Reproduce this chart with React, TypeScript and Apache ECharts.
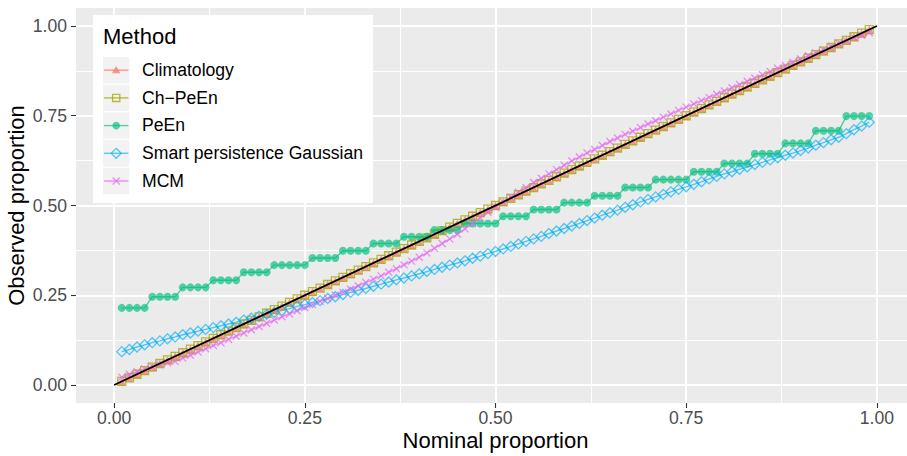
import React, { useEffect, useRef } from "react";
import * as echarts from "echarts";

const nominal = [
  0.01, 0.02, 0.03, 0.04, 0.05, 0.06, 0.07, 0.08, 0.09, 0.1,
  0.11, 0.12, 0.13, 0.14, 0.15, 0.16, 0.17, 0.18, 0.19, 0.2,
  0.21, 0.22, 0.23, 0.24, 0.25, 0.26, 0.27, 0.28, 0.29, 0.3,
  0.31, 0.32, 0.33, 0.34, 0.35, 0.36, 0.37, 0.38, 0.39, 0.4,
  0.41, 0.42, 0.43, 0.44, 0.45, 0.46, 0.47, 0.48, 0.49, 0.5,
  0.51, 0.52, 0.53, 0.54, 0.55, 0.56, 0.57, 0.58, 0.59, 0.6,
  0.61, 0.62, 0.63, 0.64, 0.65, 0.66, 0.67, 0.68, 0.69, 0.7,
  0.71, 0.72, 0.73, 0.74, 0.75, 0.76, 0.77, 0.78, 0.79, 0.8,
  0.81, 0.82, 0.83, 0.84, 0.85, 0.86, 0.87, 0.88, 0.89, 0.9,
  0.91, 0.92, 0.93, 0.94, 0.95, 0.96, 0.97, 0.98, 0.99,
];

const climatology = [
  0.01, 0.02, 0.03, 0.04, 0.05, 0.06, 0.07, 0.08, 0.09, 0.1,
  0.11, 0.12, 0.13, 0.14, 0.15, 0.16, 0.17, 0.18, 0.19, 0.2,
  0.21, 0.22, 0.23, 0.24, 0.25, 0.26, 0.27, 0.28, 0.29, 0.3,
  0.31, 0.32, 0.33, 0.34, 0.35, 0.36, 0.37, 0.38, 0.39, 0.4,
  0.41, 0.42, 0.43, 0.44, 0.45, 0.46, 0.47, 0.48, 0.49, 0.5,
  0.51, 0.52, 0.53, 0.54, 0.55, 0.56, 0.57, 0.58, 0.59, 0.6,
  0.61, 0.62, 0.63, 0.64, 0.65, 0.66, 0.67, 0.68, 0.69, 0.7,
  0.71, 0.72, 0.73, 0.74, 0.75, 0.76, 0.77, 0.78, 0.79, 0.8,
  0.81, 0.82, 0.83, 0.84, 0.85, 0.86, 0.87, 0.88, 0.89, 0.9,
  0.91, 0.92, 0.93, 0.94, 0.95, 0.96, 0.97, 0.98, 0.99,
];

const chPeEn = [
  0.01, 0.02, 0.03, 0.04, 0.05, 0.06, 0.07, 0.08, 0.09, 0.1,
  0.11, 0.12, 0.13, 0.14, 0.15, 0.16, 0.17, 0.18, 0.19, 0.2,
  0.21, 0.22, 0.23, 0.24, 0.25, 0.26, 0.27, 0.28, 0.29, 0.3,
  0.31, 0.32, 0.33, 0.34, 0.35, 0.36, 0.37, 0.38, 0.39, 0.4,
  0.41, 0.42, 0.43, 0.44, 0.45, 0.46, 0.47, 0.48, 0.49, 0.5,
  0.51, 0.52, 0.53, 0.54, 0.55, 0.56, 0.57, 0.58, 0.59, 0.6,
  0.61, 0.62, 0.63, 0.64, 0.65, 0.66, 0.67, 0.68, 0.69, 0.7,
  0.71, 0.72, 0.73, 0.74, 0.75, 0.76, 0.77, 0.78, 0.79, 0.8,
  0.81, 0.82, 0.83, 0.84, 0.85, 0.86, 0.87, 0.88, 0.89, 0.9,
  0.91, 0.92, 0.93, 0.94, 0.95, 0.96, 0.97, 0.98, 0.99,
];

const peEn = [
  0.215, 0.215, 0.215, 0.215, 0.246, 0.246, 0.246, 0.246, 0.272, 0.272,
  0.272, 0.272, 0.292, 0.292, 0.292, 0.292, 0.314, 0.314, 0.314, 0.314,
  0.334, 0.334, 0.334, 0.334, 0.334, 0.354, 0.354, 0.354, 0.354, 0.374,
  0.374, 0.374, 0.374, 0.394, 0.394, 0.394, 0.394, 0.413, 0.413, 0.413,
  0.413, 0.432, 0.432, 0.432, 0.432, 0.45, 0.45, 0.45, 0.45, 0.45,
  0.47, 0.47, 0.47, 0.47, 0.489, 0.489, 0.489, 0.489, 0.508, 0.508,
  0.508, 0.508, 0.527, 0.527, 0.527, 0.527, 0.55, 0.55, 0.55, 0.55,
  0.572, 0.572, 0.572, 0.572, 0.572, 0.594, 0.594, 0.594, 0.594, 0.617,
  0.617, 0.617, 0.617, 0.644, 0.644, 0.644, 0.644, 0.673, 0.673, 0.673,
  0.673, 0.708, 0.708, 0.708, 0.708, 0.749, 0.749, 0.749, 0.749,
];

const smartPersistence = [
  0.093, 0.099, 0.106, 0.112, 0.118, 0.123, 0.129, 0.134, 0.14, 0.145,
  0.15, 0.155, 0.16, 0.165, 0.17, 0.175, 0.181, 0.186, 0.192, 0.197,
  0.202, 0.208, 0.213, 0.219, 0.224, 0.23, 0.235, 0.241, 0.246, 0.252,
  0.258, 0.264, 0.269, 0.275, 0.281, 0.287, 0.293, 0.298, 0.304, 0.31,
  0.316, 0.322, 0.328, 0.334, 0.34, 0.346, 0.353, 0.359, 0.366, 0.372,
  0.379, 0.386, 0.393, 0.4, 0.407, 0.414, 0.422, 0.429, 0.436, 0.443,
  0.45, 0.458, 0.465, 0.473, 0.48, 0.487, 0.495, 0.502, 0.51, 0.517,
  0.524, 0.531, 0.538, 0.545, 0.552, 0.559, 0.566, 0.574, 0.581, 0.588,
  0.594, 0.601, 0.607, 0.614, 0.62, 0.627, 0.633, 0.64, 0.646, 0.653,
  0.66, 0.668, 0.675, 0.683, 0.69, 0.7, 0.711, 0.721, 0.732,
];

const mcm = [
  0.022, 0.03, 0.037, 0.045, 0.052, 0.057, 0.062, 0.066, 0.075, 0.083,
  0.092, 0.101, 0.11, 0.118, 0.127, 0.136, 0.145, 0.154, 0.163, 0.172,
  0.181, 0.19, 0.198, 0.207, 0.216, 0.224, 0.233, 0.241, 0.25, 0.258,
  0.267, 0.276, 0.286, 0.295, 0.304, 0.314, 0.324, 0.335, 0.345, 0.356,
  0.368, 0.381, 0.394, 0.407, 0.42, 0.435, 0.45, 0.466, 0.481, 0.496,
  0.51, 0.523, 0.537, 0.55, 0.564, 0.576, 0.588, 0.6, 0.612, 0.624,
  0.635, 0.646, 0.656, 0.667, 0.678, 0.688, 0.698, 0.707, 0.717, 0.727,
  0.736, 0.746, 0.755, 0.765, 0.774, 0.783, 0.792, 0.801, 0.81, 0.819,
  0.828, 0.837, 0.846, 0.855, 0.864, 0.873, 0.882, 0.89, 0.899, 0.908,
  0.917, 0.925, 0.934, 0.942, 0.951, 0.959, 0.967, 0.974, 0.982,
];

const diagonalX = [0, 1];
const diagonalY = [0, 1];

const xTicks = [0, 0.25, 0.5, 0.75, 1];
const yTicks = [0, 0.25, 0.5, 0.75, 1];
const minorTicks = [0.125, 0.375, 0.625, 0.875];

const methodNames = [
  "Climatology",
  "Ch\u2212PeEn",
  "PeEn",
  "Smart persistence Gaussian",
  "MCM",
];
const legendTitle = "Method";
const xTitle = "Nominal proportion";
const yTitle = "Observed proportion";

const FONT = '"Liberation Sans", Arial, Helvetica, sans-serif';
const COLORS = [
  "rgba(248,118,109,0.75)",
  "rgba(163,165,0,0.75)",
  "rgba(0,191,125,0.66)",
  "rgba(0,176,246,0.66)",
  "rgba(231,107,243,0.75)",
];
const CROSS = "path://M0,0L10,10M10,0L0,10";
const SYMBOLS = ["triangle", "rect", "circle", "diamond", CROSS];
const SIZES = [8, 8, 8, 10, 7];
const HOLLOW = [false, true, false, true, true];

function makeSeries(idx: number, values: number[]) {
  const color = COLORS[idx];
  return {
    type: "line",
    name: methodNames[idx],
    data: nominal.map((x, i) => [x, values[i]]),
    symbol: SYMBOLS[idx],
    symbolSize: SIZES[idx],
    showSymbol: true,
    lineStyle: { color, width: 1.4 },
    itemStyle: HOLLOW[idx]
      ? { color: "rgba(0,0,0,0)", borderColor: color, borderWidth: 1.3 }
      : { color, borderWidth: 0 },
    emphasis: { disabled: true },
    silent: true,
    z: 2,
  };
}

function legendGraphics() {
  const els: any[] = [];
  els.push({
    type: "rect",
    shape: { x: 93, y: 15, width: 280, height: 188 },
    style: { fill: "#FFFFFF" },
    z: 10,
  });
  els.push({
    type: "text",
    style: {
      text: legendTitle,
      x: 103,
      y: 36,
      fill: "#000000",
      font: `22px ${FONT}`,
      verticalAlign: "middle",
      align: "left",
    },
    z: 11,
  });
  const centers = [70, 97.7, 125.4, 153.1, 180.8];
  centers.forEach((cy, i) => {
    const color = COLORS[i];
    els.push({
      type: "rect",
      shape: { x: 103, y: cy - 13, width: 26.4, height: 26.4 },
      style: { fill: "#F2F2F2" },
      z: 11,
    });
    els.push({
      type: "line",
      shape: { x1: 104, y1: cy + 0.2, x2: 128.4, y2: cy + 0.2 },
      style: { stroke: color, lineWidth: 1.4 },
      z: 12,
    });
    const mx = 116.2;
    const my = cy + 0.2;
    if (i === 0) {
      els.push({
        type: "polygon",
        shape: { points: [[mx, my - 4.2], [mx + 4.2, my + 3], [mx - 4.2, my + 3]] },
        style: { fill: color },
        z: 13,
      });
    } else if (i === 1) {
      els.push({
        type: "rect",
        shape: { x: mx - 3.6, y: my - 3.6, width: 7.2, height: 7.2 },
        style: { fill: "none", stroke: color, lineWidth: 1.3 },
        z: 13,
      });
    } else if (i === 2) {
      els.push({
        type: "circle",
        shape: { cx: mx, cy: my, r: 3.8 },
        style: { fill: color },
        z: 13,
      });
    } else if (i === 3) {
      els.push({
        type: "polygon",
        shape: { points: [[mx, my - 5], [mx + 5, my], [mx, my + 5], [mx - 5, my]] },
        style: { fill: "none", stroke: color, lineWidth: 1.3 },
        z: 13,
      });
    } else {
      els.push({
        type: "line",
        shape: { x1: mx - 3.5, y1: my - 3.5, x2: mx + 3.5, y2: my + 3.5 },
        style: { stroke: color, lineWidth: 1.3 },
        z: 13,
      });
      els.push({
        type: "line",
        shape: { x1: mx - 3.5, y1: my + 3.5, x2: mx + 3.5, y2: my - 3.5 },
        style: { stroke: color, lineWidth: 1.3 },
        z: 13,
      });
    }
    els.push({
      type: "text",
      style: {
        text: methodNames[i],
        x: 142,
        y: cy,
        fill: "#000000",
        font: `17.6px ${FONT}`,
        verticalAlign: "middle",
        align: "left",
      },
      z: 13,
    });
  });
  return els;
}

export default function App() {
  const ref = useRef<HTMLDivElement>(null);
  useEffect(() => {
    if (!ref.current) return;
    const chart = echarts.init(ref.current, undefined, { renderer: "svg" });
    const fmt = (v: number) => v.toFixed(2);
    const option: any = {
      animation: false,
      backgroundColor: "#FFFFFF",
      grid: {
        left: 76,
        top: 8,
        width: 839,
        height: 395,
        show: true,
        backgroundColor: "#EBEBEB",
        borderWidth: 0,
        containLabel: false,
        outerBoundsMode: "none",
      },
      xAxis: [
        {
          type: "value",
          min: -0.05,
          max: 1.05,
          position: "bottom",
          axisLine: { show: false, onZero: false },
          axisTick: {
            show: true,
            length: 5,
            customValues: xTicks,
            lineStyle: { color: "#333333", width: 1.1 },
          },
          axisLabel: {
            customValues: xTicks,
            formatter: fmt,
            color: "#4D4D4D",
            fontSize: 17.6,
            fontFamily: FONT,
            margin: 6,
          },
          splitLine: { show: true, lineStyle: { color: "#FFFFFF", width: 2 } },
          name: xTitle,
          nameLocation: "middle",
          nameGap: 26,
          nameMoveOverlap: false,
          nameTextStyle: { color: "#000000", fontSize: 22, fontFamily: FONT },
        },
        {
          type: "value",
          min: -0.05,
          max: 1.05,
          position: "bottom",
          axisLine: { show: false, onZero: false },
          axisTick: { show: false, customValues: minorTicks },
          axisLabel: { show: false, customValues: minorTicks },
          splitLine: { show: true, lineStyle: { color: "#FFFFFF", width: 1 } },
        },
      ],
      yAxis: [
        {
          type: "value",
          min: -0.05,
          max: 1.05,
          position: "left",
          axisLine: { show: false, onZero: false },
          axisTick: {
            show: true,
            length: 5,
            customValues: yTicks,
            lineStyle: { color: "#333333", width: 1.1 },
          },
          axisLabel: {
            customValues: yTicks,
            formatter: fmt,
            color: "#4D4D4D",
            fontSize: 17.6,
            fontFamily: FONT,
            margin: 9,
          },
          splitLine: { show: true, lineStyle: { color: "#FFFFFF", width: 2 } },
          name: yTitle,
          nameLocation: "middle",
          nameGap: 49,
          nameMoveOverlap: false,
          nameTextStyle: { color: "#000000", fontSize: 22, fontFamily: FONT },
        },
        {
          type: "value",
          min: -0.05,
          max: 1.05,
          position: "left",
          axisLine: { show: false, onZero: false },
          axisTick: { show: false, customValues: minorTicks },
          axisLabel: { show: false, customValues: minorTicks },
          splitLine: { show: true, lineStyle: { color: "#FFFFFF", width: 1 } },
        },
      ],
      series: [
        makeSeries(0, climatology),
        makeSeries(1, chPeEn),
        makeSeries(2, peEn),
        makeSeries(3, smartPersistence),
        makeSeries(4, mcm),
        {
          type: "line",
          name: "diagonal",
          data: diagonalX.map((x, i) => [x, diagonalY[i]]),
          symbol: "none",
          lineStyle: { color: "#000000", width: 1.8 },
          emphasis: { disabled: true },
          silent: true,
          z: 3,
        },
      ],
      graphic: legendGraphics(),
    };
    chart.setOption(option);
    return () => chart.dispose();
  }, []);
  return (
    <div
      ref={ref}
      style={{ position: "fixed", left: 0, top: 0, width: 907, height: 456 }}
    />
  );
}
